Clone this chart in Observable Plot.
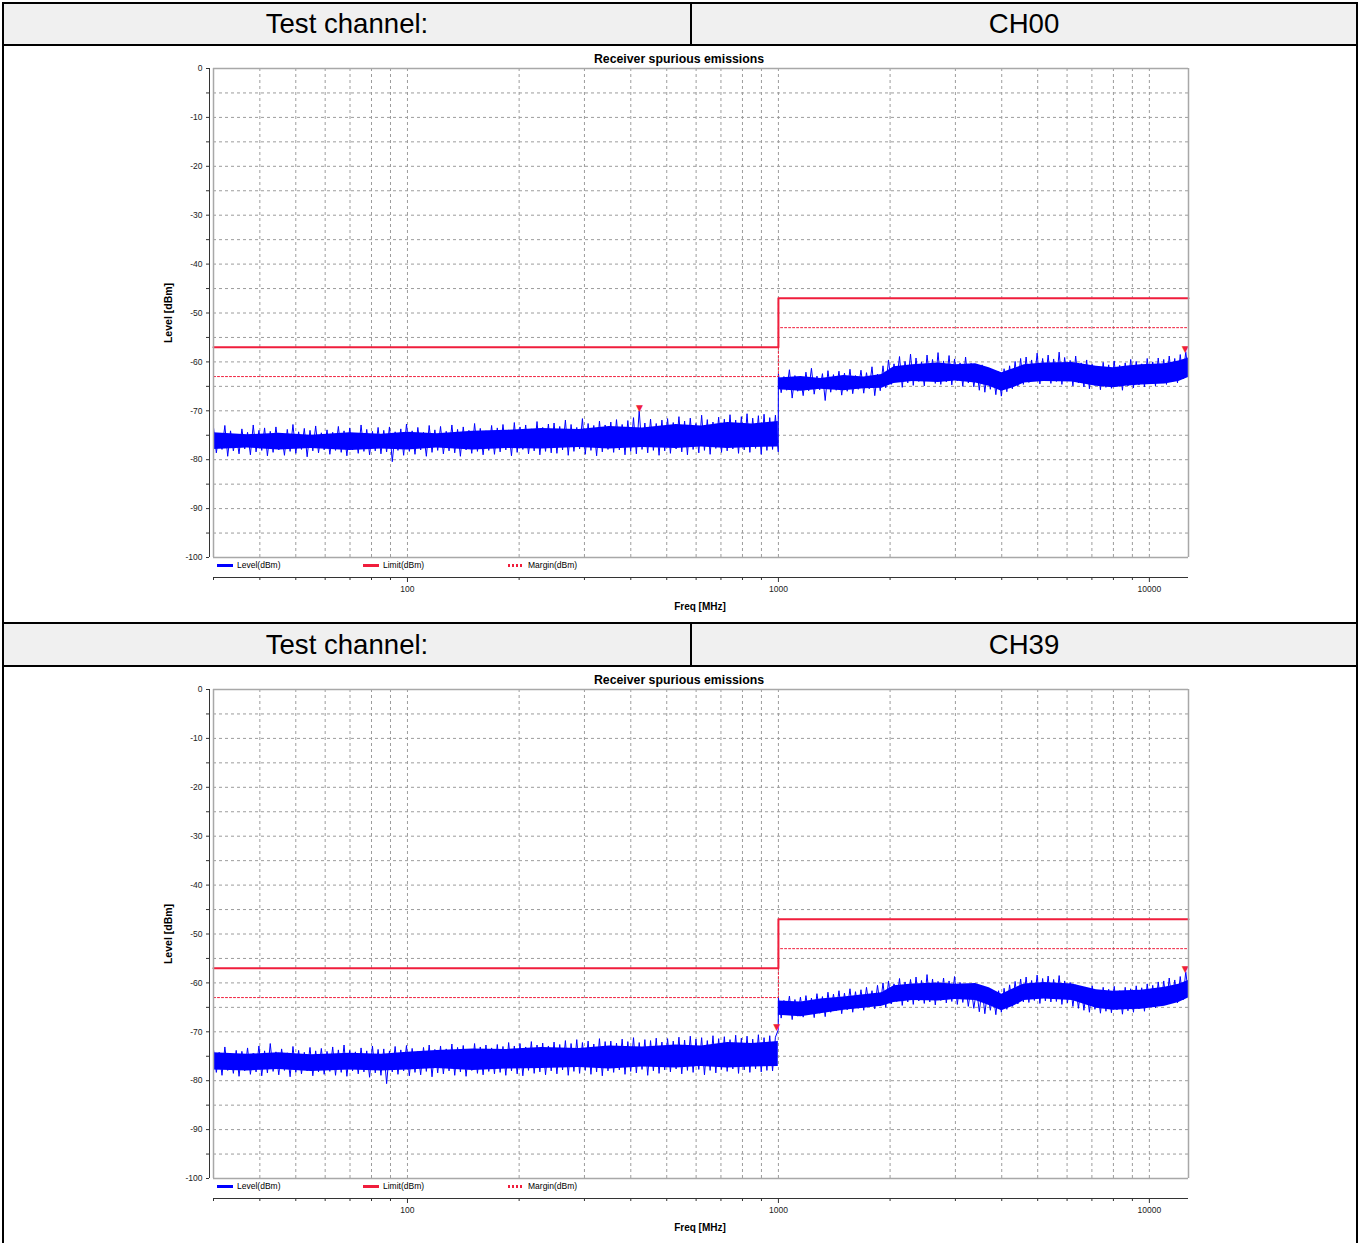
<!DOCTYPE html>
<html><head><meta charset="utf-8">
<script src="https://cdn.jsdelivr.net/npm/d3@7"></script>
<script src="https://cdn.jsdelivr.net/npm/@observablehq/plot@0.6"></script>
<style>
html,body{margin:0;padding:0;background:#fff;}
body{width:1360px;height:1243px;position:relative;overflow:hidden;font-family:"Liberation Sans",Arial,sans-serif;color:#000;}
.hdr{position:absolute;left:2px;width:1356px;box-sizing:border-box;border:2px solid #000;background:#f0f0f0;}
.cell{position:absolute;top:0;bottom:0;display:flex;align-items:center;justify-content:center;font-size:27.6px;}
.side{position:absolute;left:2px;width:1356px;box-sizing:border-box;border-left:2px solid #000;border-right:2px solid #000;}
.ov{position:absolute;white-space:nowrap;line-height:1;}
.title{font-size:12.3px;font-weight:bold;transform:translate(-50%,-50%);}
.xlab{font-size:10px;font-weight:bold;transform:translate(-50%,-50%);}
.ylab{font-size:10.5px;font-weight:bold;transform:translate(-50%,-50%) rotate(-90deg);}
.lg{font-size:8.5px;transform:translateY(-50%);}
.sw{position:absolute;width:16px;height:3px;}
svg{position:absolute;left:0;}
</style>
</head><body>
<div id="root"></div>
<script>
// ---- data ----
const channels = ["CH00", "CH39"];
const headerLabel = "Test channel:";
const chartTitle = "Receiver spurious emissions";
const xLabel = "Freq [MHz]";
const yLabel = "Level [dBm]";
const legendLabels = ["Level(dBm)", "Limit(dBm)", "Margin(dBm)"];

const xMajorTicks = [100, 1000, 10000];
const xMinorTicks = [30, 40, 50, 60, 70, 80, 90, 200, 300, 400, 500, 600, 700, 800, 900, 2000, 3000, 4000, 5000, 6000, 7000, 8000, 9000];
const xGrid = [40, 50, 60, 70, 80, 90, 100, 200, 300, 400, 500, 600, 700, 800, 900, 1000, 2000, 3000, 4000, 5000, 6000, 7000, 8000, 9000, 10000];
const yTicks = [0, -5, -10, -15, -20, -25, -30, -35, -40, -45, -50, -55, -60, -65, -70, -75, -80, -85, -90, -95, -100];
const yGrid = [-5, -10, -15, -20, -25, -30, -35, -40, -45, -50, -55, -60, -65, -70, -75, -80, -85, -90, -95];

const limitFreq = [30, 1000, 1000, 12750];
const limitLevel = [-57, -57, -47, -47];
const marginLevel = [-63, -63, -53, -53];

// sweep ranges (MHz)
const sweep1 = [30, 999];
const sweep2 = [1000, 12750];

// dense centre of the noise band
const coreFreq = [30, 37, 45, 55, 70, 85, 100, 120, 150, 185, 230, 290, 350, 430, 530, 620, 730, 850, 999,
  1000, 1150, 1300, 1500, 1700, 1900, 2050, 2300, 2700, 3000, 3400, 3700, 4000, 4300, 4600, 5200, 6200, 7200, 8000, 8600, 9500, 11000, 12000, 12750];
const ch00CoreHi = [-74.5, -74.9, -74.6, -75.0, -74.5, -74.8, -74.4, -74.7, -74.2, -74.0, -73.6, -73.8, -73.2, -73.5, -72.8, -73.1, -72.4, -72.7, -72.2,
  -63.3, -63.0, -63.4, -62.8, -63.1, -62.6, -61.0, -60.6, -60.2, -60.6, -60.4, -61.2, -62.2, -61.4, -60.6, -60.2, -60.1, -60.9, -61.2, -60.9, -60.6, -60.4, -59.8, -59.2];
const ch00CoreLo = [-77.9, -77.6, -78.0, -77.7, -78.1, -77.8, -78.0, -77.6, -78.0, -77.7, -77.8, -77.5, -77.8, -77.5, -77.7, -77.4, -77.7, -77.5, -77.4,
  -65.7, -66.0, -65.6, -65.9, -65.5, -65.4, -64.4, -64.0, -64.2, -63.9, -64.3, -65.0, -66.0, -65.3, -64.3, -64.0, -64.1, -65.0, -65.3, -65.0, -64.7, -64.5, -64.0, -63.2];
const ch39CoreHi = [-74.3, -74.6, -74.3, -74.7, -74.4, -74.6, -74.2, -73.8, -73.5, -73.6, -73.2, -73.4, -72.9, -73.1, -72.7, -72.9, -72.2, -72.4, -72.0,
  -63.7, -63.9, -63.3, -62.9, -62.4, -62.0, -60.6, -60.2, -60.0, -60.3, -60.1, -61.0, -62.3, -61.2, -60.2, -59.9, -60.2, -61.4, -61.7, -61.6, -61.5, -60.9, -60.3, -59.5];
const ch39CoreLo = [-77.8, -78.0, -77.7, -78.1, -77.8, -78.0, -77.8, -77.5, -77.9, -77.6, -77.5, -77.3, -77.6, -77.2, -77.4, -77.1, -77.4, -77.2, -77.1,
  -66.6, -66.9, -66.3, -65.6, -65.2, -64.8, -64.0, -63.6, -63.7, -63.4, -63.6, -64.6, -65.7, -64.8, -63.6, -63.3, -63.6, -65.2, -65.6, -65.5, -65.4, -64.8, -64.0, -63.1];

// trace peaks/troughs read along each sweep range
const ch00Sweep1 = [
-73.4,-78.6,-74.6,-77.9,-73.0,-79.3,-74.1,-78.2,-74.9,-78.8,-73.7,-77.8,-74.4,-79.0,-72.9,-78.4,-74.0,-78.1,-73.5,-79.2,
-74.2,-78.5,-73.3,-78.0,-74.7,-79.1,-73.8,-78.3,-72.8,-78.7,-74.3,-77.9,-73.6,-79.4,-74.0,-78.2,-73.1,-78.6,-74.5,-78.0,
-73.9,-78.9,-74.4,-78.1,-73.2,-78.5,-74.1,-79.2,-73.5,-78.0,-74.6,-78.7,-72.9,-78.3,-73.8,-79.0,-74.2,-78.2,-73.4,-78.8,
-74.0,-78.4,-73.3,-80.4,-74.3,-78.1,-73.7,-79.1,-72.7,-78.3,-74.1,-78.9,-73.4,-78.0,-74.4,-79.3,-73.0,-78.5,-73.9,-78.1,
-73.2,-78.8,-74.2,-78.2,-72.9,-78.6,-73.8,-79.3,-73.3,-78.0,-74.0,-78.7,-72.6,-78.3,-73.6,-79.0,-74.1,-78.1,-73.0,-78.9,
-73.5,-78.4,-72.8,-78.0,-73.9,-79.2,-72.4,-78.5,-73.3,-77.9,-72.9,-78.8,-73.7,-78.2,-72.2,-79.0,-73.4,-78.3,-72.7,-78.6,
-72.5,-78.7,-73.2,-78.0,-71.9,-79.1,-72.8,-78.3,-73.4,-77.8,-71.6,-78.9,-72.6,-78.1,-73.0,-79.2,-72.1,-78.4,-72.9,-77.9,
-72.3,-78.5,-71.8,-78.0,-72.8,-79.0,-72.0,-78.3,-71.4,-78.8,-70.0,-77.9,-72.5,-78.6,-71.7,-78.1,-72.6,-79.1,-71.9,-78.2,
-71.6,-78.7,-72.4,-77.8,-71.2,-78.4,-72.1,-79.0,-71.5,-77.9,-72.6,-78.6,-70.9,-78.1,-71.8,-78.9,-72.3,-77.7,-71.3,-78.5,
-71.7,-78.2,-70.8,-77.8,-71.9,-78.7,-71.2,-78.0,-70.6,-78.5,-71.5,-77.7,-71.0,-78.9,-70.7,-78.1,-71.4,-77.9,-70.9,-78.4];
const ch00Sweep2 = [
-62.4,-66.3,-63.0,-65.8,-61.6,-67.4,-62.8,-66.0,-63.2,-66.9,
-62.1,-65.9,-61.3,-66.6,-62.9,-65.7,-62.4,-67.9,-61.8,-66.2,
-62.6,-65.8,-61.9,-66.8,-62.3,-66.0,-61.5,-66.5,-62.8,-65.6,
-61.7,-66.4,-62.2,-65.5,-61.0,-66.9,-62.5,-65.9,-60.8,-65.3,
-59.6,-64.6,-60.4,-63.9,-58.9,-65.2,-59.9,-64.3,-58.4,-64.8,
-59.2,-64.0,-60.0,-64.9,-58.6,-63.7,-59.5,-64.4,-58.1,-64.6,
-59.8,-64.1,-58.7,-64.7,-59.4,-63.9,-60.2,-65.0,-59.0,-64.3,
-60.3,-65.1,-61.2,-65.8,-60.6,-66.2,-61.5,-65.6,-61.9,-66.7,
-62.0,-67.0,-61.4,-66.1,-60.8,-65.5,-59.9,-64.9,-59.3,-64.6,
-59.0,-64.2,-59.6,-63.8,-58.2,-64.5,-59.3,-63.9,-58.6,-64.4,
-59.4,-64.0,-58.0,-64.6,-59.1,-63.8,-59.7,-64.9,-58.8,-64.3,
-60.2,-65.1,-59.6,-65.5,-60.5,-64.8,-60.9,-65.7,-60.1,-65.2,
-60.6,-65.4,-59.8,-65.0,-60.7,-65.8,-60.2,-64.9,-59.5,-65.3,
-59.9,-64.7,-60.4,-65.1,-59.3,-64.5,-60.0,-64.9,-59.2,-64.2,
-59.5,-64.6,-58.8,-63.9,-59.3,-64.3,-58.5,-63.5,-57.9,-62.7];
const ch39Sweep1 = [
-73.6,-78.3,-74.2,-78.9,-73.1,-77.9,-74.5,-78.5,-73.8,-79.1,-74.0,-78.0,-73.3,-78.7,-74.4,-78.2,-72.9,-79.0,-73.9,-78.4,
-72.4,-78.1,-74.1,-78.8,-73.5,-77.9,-74.3,-79.2,-73.0,-78.3,-73.8,-78.6,-74.2,-78.0,-73.2,-79.0,-73.9,-78.2,-73.4,-78.7,
-74.0,-78.1,-73.1,-78.9,-73.7,-78.3,-72.7,-79.1,-73.8,-78.0,-74.1,-78.6,-73.3,-78.2,-73.9,-79.3,-72.9,-78.4,-73.6,-78.9,
-73.5,-80.6,-73.9,-78.2,-73.0,-78.7,-73.7,-78.0,-72.8,-79.0,-73.4,-78.3,-74.0,-78.8,-73.2,-78.1,-72.7,-79.2,-73.6,-78.4,
-72.9,-78.6,-73.5,-78.0,-72.5,-78.9,-73.2,-78.2,-72.8,-79.1,-73.6,-77.9,-72.4,-78.5,-73.1,-78.8,-72.7,-78.1,-73.3,-78.6,
-72.6,-78.3,-73.0,-78.9,-72.2,-78.0,-72.9,-78.6,-72.4,-79.0,-73.1,-77.9,-72.0,-78.5,-72.7,-78.2,-72.3,-78.8,-72.9,-78.0,
-72.1,-78.6,-72.6,-77.8,-71.8,-78.9,-72.4,-78.1,-71.6,-78.5,-72.2,-77.9,-71.9,-78.7,-72.5,-78.2,-71.4,-79.0,-72.0,-78.0,
-71.9,-78.3,-72.3,-77.8,-71.5,-78.7,-72.0,-78.1,-71.2,-78.4,-72.2,-77.7,-71.6,-78.9,-71.8,-78.0,-71.3,-78.5,-72.1,-77.8,
-71.4,-78.2,-71.9,-77.6,-71.1,-78.6,-71.7,-77.9,-70.9,-78.3,-71.5,-77.7,-71.2,-78.8,-71.8,-77.9,-70.8,-78.4,-71.4,-77.7,
-71.0,-78.1,-71.6,-77.6,-70.7,-78.5,-71.3,-77.8,-70.9,-78.3,-71.5,-77.6,-70.6,-78.2,-71.2,-77.9,-70.8,-78.0,-71.1,-69.6];
const ch39Sweep2 = [
-63.0,-67.2,-63.6,-66.5,-62.7,-67.5,-63.4,-66.8,-62.9,-67.0,
-62.6,-66.4,-63.1,-67.1,-62.2,-66.2,-62.8,-66.9,-61.9,-66.0,
-62.3,-65.7,-61.6,-66.3,-62.1,-65.5,-61.2,-66.0,-61.8,-65.2,
-61.4,-65.6,-60.9,-64.9,-61.6,-65.3,-60.5,-64.7,-60.0,-65.0,
-59.6,-64.3,-60.2,-63.8,-59.1,-64.6,-59.8,-63.9,-59.3,-64.4,
-58.8,-63.7,-59.5,-64.2,-58.3,-63.9,-59.2,-64.5,-59.7,-63.6,
-59.0,-64.1,-59.6,-63.8,-58.7,-64.4,-59.9,-64.0,-60.3,-64.8,
-60.8,-65.2,-61.4,-65.9,-61.0,-66.3,-61.7,-65.6,-62.0,-66.5,
-61.6,-66.0,-61.1,-65.4,-60.4,-64.8,-59.7,-64.3,-59.2,-63.9,
-58.8,-64.0,-59.5,-63.6,-58.4,-64.2,-59.1,-63.7,-58.6,-63.9,
-59.3,-63.8,-58.5,-64.4,-59.6,-64.1,-59.9,-64.8,-60.4,-65.2,
-60.8,-65.6,-61.2,-66.0,-60.6,-65.4,-61.5,-66.2,-60.9,-65.8,
-61.3,-66.1,-60.7,-65.5,-61.6,-66.4,-60.9,-65.7,-61.2,-66.0,
-60.6,-65.3,-61.0,-65.8,-60.2,-64.9,-60.5,-65.1,-59.8,-64.6,
-59.6,-64.4,-59.0,-63.8,-59.4,-64.1,-58.7,-63.5,-57.7,-62.4];

const ch00MarkerFreq = [422, 12500];
const ch00MarkerLevel = [-70.0, -57.9];
const ch39MarkerFreq = [990, 12500];
const ch39MarkerLevel = [-69.6, -57.7];

// ---- drawing ----
const BLUE = "#0000ff", RED = "#f01e3c", GRID = "#9c9c9c";
const W = 1360, H = 576;

function sweepPoints(range, values) {
  const [a, b] = range, n = values.length;
  return values.map((v, i) => ({f: a * Math.pow(b / a, i / (n - 1)), v}));
}

function chart(coreHi, coreLo, s1, s2, mF, mL) {
  const trace = [...sweepPoints(sweep1, s1), ...sweepPoints(sweep2, s2)];
  const core = coreFreq.map((f, i) => ({f, lo: coreLo[i], hi: coreHi[i]}));
  const limit = limitFreq.map((f, i) => ({f, v: limitLevel[i]}));
  const margin = limitFreq.map((f, i) => ({f, v: marginLevel[i]}));
  const markers = mF.map((f, i) => ({f, v: mL[i]}));
  return Plot.plot({
    width: W, height: H,
    marginLeft: 209, marginTop: 22, marginBottom: 45, marginRight: 172,
    style: {background: "transparent", fontFamily: "'Liberation Sans', Arial, sans-serif", fontSize: "8.5px", color: "#222", overflow: "visible"},
    x: {type: "log", domain: [30, 12750], range: [213, 1188]},
    y: {domain: [-100, 0], range: [511, 22]},
    marks: [
      Plot.ruleX(xGrid, {y1: -100, y2: 0, stroke: GRID, strokeWidth: 1, strokeDasharray: "3,3"}),
      Plot.ruleY(yGrid, {x1: 30, x2: 12750, stroke: GRID, strokeWidth: 1, strokeDasharray: "3,3"}),
      Plot.areaY(core, {x: "f", y1: "lo", y2: "hi", fill: BLUE}),
      Plot.line(trace, {x: "f", y: "v", stroke: BLUE, strokeWidth: 1}),
      Plot.line(margin, {x: "f", y: "v", stroke: RED, strokeWidth: 1, strokeDasharray: "2,2"}),
      Plot.line(limit, {x: "f", y: "v", stroke: RED, strokeWidth: 2}),
      Plot.text(markers, {x: "f", y: "v", text: () => "\u25BC", fill: RED, fontSize: 9, dy: -3, fontFamily: "DejaVu Sans"}),
      Plot.ruleX([30, 12750], {y1: -100, y2: 0, stroke: "#a8a8a8", strokeWidth: 1.5}),
      Plot.ruleY([0, -100], {x1: 30, x2: 12750, stroke: "#a8a8a8", strokeWidth: 1.5}),
      Plot.ruleX([30], {y1: 0, y2: -100, dx: -4, stroke: "#333"}),
      Plot.ruleY([-100], {x1: 30, x2: 12750, dy: 20, stroke: "#333"}),
      Plot.axisY({anchor: "left", ticks: yTicks, tickSize: 3, tickPadding: 4, tickFormat: d => d % 10 === 0 ? String(d) : "", label: null, stroke: "#333"}),
      Plot.axisX({anchor: "bottom", ticks: xMinorTicks, tickSize: 3, tickFormat: () => "", label: null, stroke: "#333"}),
      Plot.axisX({anchor: "bottom", ticks: xMajorTicks, tickSize: 5, tickPadding: 3, tickFormat: d => String(d), label: null, stroke: "#333"})
    ]
  });
}

const root = document.getElementById("root");
function add(html) { root.insertAdjacentHTML("beforeend", html); }

const panels = [
  {ch: channels[0], hdrTop: 2, hdrH: 44, chartTop: 46, off: 0, args: [ch00CoreHi, ch00CoreLo, ch00Sweep1, ch00Sweep2, ch00MarkerFreq, ch00MarkerLevel]},
  {ch: channels[1], hdrTop: 622, hdrH: 45, chartTop: 667, off: 621, args: [ch39CoreHi, ch39CoreLo, ch39Sweep1, ch39Sweep2, ch39MarkerFreq, ch39MarkerLevel]}
];

for (const p of panels) {
  add(`<div class="hdr" style="top:${p.hdrTop}px;height:${p.hdrH}px">
    <div class="cell" style="left:0;width:686px;border-right:2px solid #000">${headerLabel}</div>
    <div class="cell" style="left:688px;right:0">${p.ch}</div></div>`);
  add(`<div class="side" style="top:${p.chartTop}px;height:${p.off ? 600 : 576}px"></div>`);
  const svg = chart(...p.args);
  svg.style.top = p.chartTop + "px";
  root.appendChild(svg);
  const o = p.off;
  add(`<div class="ov title" style="left:679px;top:${59 + o}px">${chartTitle}</div>`);
  add(`<div class="ov xlab" style="left:700px;top:${607 + o}px">${xLabel}</div>`);
  add(`<div class="ov ylab" style="left:168px;top:${313 + o}px">${yLabel}</div>`);
  add(`<div class="sw" style="left:217px;top:${563.5 + o}px;background:${BLUE}"></div>`);
  add(`<div class="ov lg" style="left:237px;top:${565 + o}px">${legendLabels[0]}</div>`);
  add(`<div class="sw" style="left:363px;top:${563.5 + o}px;background:${RED}"></div>`);
  add(`<div class="ov lg" style="left:383px;top:${565 + o}px">${legendLabels[1]}</div>`);
  add(`<div class="sw" style="left:508px;top:${563.5 + o}px;width:15px;background:repeating-linear-gradient(90deg, ${RED} 0 2px, transparent 2px 4px)"></div>`);
  add(`<div class="ov lg" style="left:528px;top:${565 + o}px">${legendLabels[2]}</div>`);
}
</script>
</body></html>
